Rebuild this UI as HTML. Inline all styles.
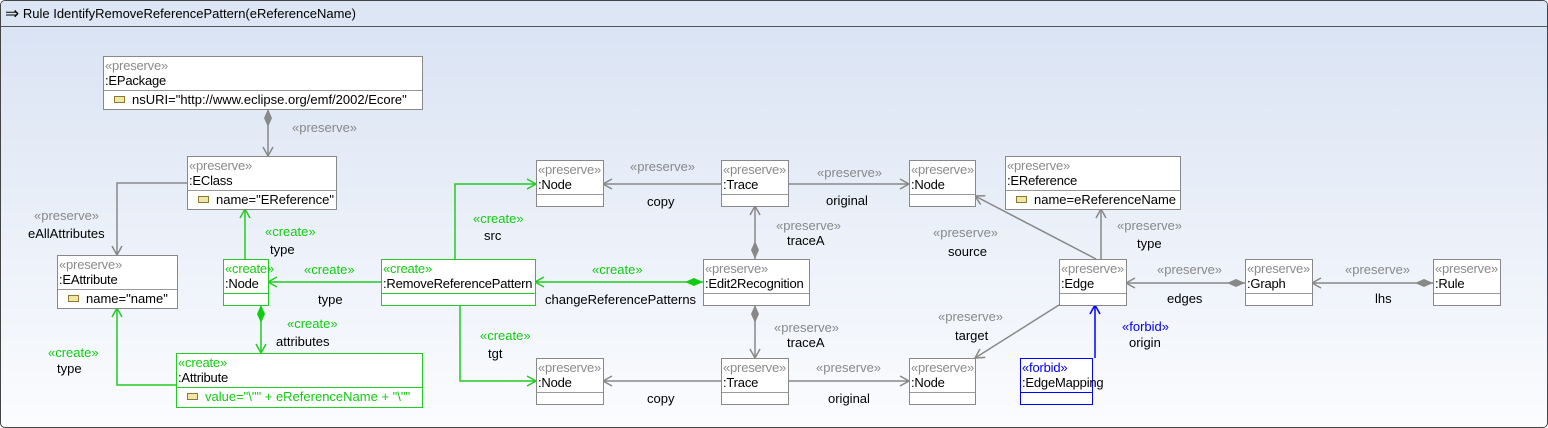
<!DOCTYPE html>
<html><head><meta charset="utf-8"><style>
body{margin:0;width:1548px;height:428px;overflow:hidden;font-family:"Liberation Sans",sans-serif;font-size:13px;background:#fff}
#frame{position:absolute;left:0;top:0;width:1546px;height:426px;border:1px solid #444;border-radius:5px;background:linear-gradient(#d8e2f3,#fbfcfe);overflow:hidden}
#title{position:absolute;left:0;top:0;width:1546px;height:25px;border-bottom:1px solid #555;background:#dde6f4;font-size:13px;line-height:25px}
.box{position:absolute;background:#fff;border:1px solid #888;box-sizing:border-box;white-space:nowrap}
.st{color:#8a8a8a;line-height:15px;padding-left:1px;margin-top:1px;letter-spacing:-0.2px}
.nm{line-height:16px;padding-left:1px;border-bottom:1px solid #999;height:17px;letter-spacing:-0.2px}
.at{line-height:17px;padding-left:10px}
.at i{display:inline-block;width:9px;height:5px;border:1px solid #8a7a30;background:#f2e5a8;margin-right:7px;vertical-align:1px}
.g{border-color:#2c2}.g .st,.g .at{color:#1c1}.g .nm{border-color:#2c2}
.b{border-color:#00f}.b .st{color:#00f}.b .nm{border-color:#00f}
.l{position:absolute;white-space:nowrap;line-height:14px}
.p{color:#888}.c{color:#1c1}.f{color:#00f}
svg{position:absolute;left:0;top:0}
</style></head><body>
<div id="frame">
<div id="title"><span style="font-size:17px;margin-left:4px;vertical-align:-1px">⇒</span> Rule IdentifyRemoveReferencePattern(eReferenceName)</div>
</div>
<svg width="1548" height="428" viewBox="0 0 1548 428">
<defs>
<marker id="ag" markerWidth="12" markerHeight="12" refX="10" refY="6" orient="auto" markerUnits="userSpaceOnUse"><path d="M1,1 L10,6 L1,11" fill="none" stroke="#888" stroke-width="1.5"/></marker>
<marker id="ac" markerWidth="12" markerHeight="12" refX="10" refY="6" orient="auto" markerUnits="userSpaceOnUse"><path d="M1,1 L10,6 L1,11" fill="none" stroke="#2c2" stroke-width="1.5"/></marker>
<marker id="ab" markerWidth="12" markerHeight="12" refX="10" refY="6" orient="auto" markerUnits="userSpaceOnUse"><path d="M1,1 L10,6 L1,11" fill="none" stroke="#00f" stroke-width="1.5"/></marker>
<marker id="dg" markerWidth="22" markerHeight="10" refX="1" refY="5" orient="auto" markerUnits="userSpaceOnUse"><path d="M1,5 L10,1 L19,5 L10,9Z" fill="#888"/></marker>
<marker id="dc" markerWidth="22" markerHeight="10" refX="1" refY="5" orient="auto" markerUnits="userSpaceOnUse"><path d="M1,5 L10,1 L19,5 L10,9Z" fill="#1c1"/></marker>
</defs>
<g fill="none" stroke-width="1.5">
<g stroke="#888">
<path d="M268,109 V156" marker-start="url(#dg)" marker-end="url(#ag)"/>
<path d="M187,183 H117 V255" marker-end="url(#ag)"/>
<path d="M721,184 H603" marker-end="url(#ag)"/>
<path d="M788,184 H909" marker-end="url(#ag)"/>
<path d="M755,259 V206" marker-start="url(#dg)" marker-end="url(#ag)"/>
<path d="M755,305 V358" marker-start="url(#dg)" marker-end="url(#ag)"/>
<path d="M721,381 H603" marker-end="url(#ag)"/>
<path d="M788,381 H909" marker-end="url(#ag)"/>
<path d="M1096,259 L975,196" marker-end="url(#ag)"/>
<path d="M1101,259 V209" marker-end="url(#ag)"/>
<path d="M1059,305 L975,358" marker-end="url(#ag)"/>
<path d="M1245,283 H1126" marker-start="url(#dg)" marker-end="url(#ag)"/>
<path d="M1433,283 H1312" marker-start="url(#dg)" marker-end="url(#ag)"/>
</g>
<g stroke="#2c2">
<path d="M245,259 V209" marker-end="url(#ac)"/>
<path d="M381,282 H268" marker-end="url(#ac)"/>
<path d="M261,305 V353" marker-start="url(#dc)" marker-end="url(#ac)"/>
<path d="M176,385 H117 V308" marker-end="url(#ac)"/>
<path d="M455,259 V184 H536" marker-end="url(#ac)"/>
<path d="M460,305 V381 H536" marker-end="url(#ac)"/>
<path d="M703,282 H535" marker-start="url(#dc)" marker-end="url(#ac)"/>
</g>
<path stroke="#00f" d="M1095,358 V305" marker-end="url(#ab)"/>
</g>
</svg>

<div class="box" style="left:103px;top:56px;width:320px;height:54px"><div class="st">«preserve»</div><div class="nm">:EPackage</div><div class="at"><i></i>nsURI="http://www.eclipse.org/emf/2002/Ecore"</div></div>
<div class="box" style="left:187px;top:156px;width:150px;height:54px"><div class="st">«preserve»</div><div class="nm">:EClass</div><div class="at"><i></i>name="EReference"</div></div>
<div class="box" style="left:57px;top:255px;width:121px;height:54px"><div class="st">«preserve»</div><div class="nm">:EAttribute</div><div class="at"><i></i>name="name"</div></div>
<div class="box g" style="left:223px;top:259px;width:46px;height:47px"><div class="st">«create»</div><div class="nm">:Node</div></div>
<div class="box g" style="left:381px;top:259px;width:155px;height:47px"><div class="st">«create»</div><div class="nm">:RemoveReferencePattern</div></div>
<div class="box g" style="left:176px;top:353px;width:247px;height:55px"><div class="st">«create»</div><div class="nm">:Attribute</div><div class="at"><i></i>value="\"" + eReferenceName + "\""</div></div>
<div class="box" style="left:536px;top:160px;width:68px;height:47px"><div class="st">«preserve»</div><div class="nm">:Node</div></div>
<div class="box" style="left:721px;top:160px;width:68px;height:47px"><div class="st">«preserve»</div><div class="nm">:Trace</div></div>
<div class="box" style="left:909px;top:160px;width:67px;height:47px"><div class="st">«preserve»</div><div class="nm">:Node</div></div>
<div class="box" style="left:1005px;top:156px;width:176px;height:54px"><div class="st">«preserve»</div><div class="nm">:EReference</div><div class="at"><i></i>name=eReferenceName</div></div>
<div class="box" style="left:703px;top:259px;width:107px;height:47px"><div class="st">«preserve»</div><div class="nm">:Edit2Recognition</div></div>
<div class="box" style="left:1059px;top:259px;width:68px;height:47px"><div class="st">«preserve»</div><div class="nm">:Edge</div></div>
<div class="box" style="left:1245px;top:259px;width:68px;height:47px"><div class="st">«preserve»</div><div class="nm">:Graph</div></div>
<div class="box" style="left:1433px;top:259px;width:68px;height:47px"><div class="st">«preserve»</div><div class="nm">:Rule</div></div>
<div class="box" style="left:536px;top:358px;width:68px;height:47px"><div class="st">«preserve»</div><div class="nm">:Node</div></div>
<div class="box" style="left:721px;top:358px;width:68px;height:47px"><div class="st">«preserve»</div><div class="nm">:Trace</div></div>
<div class="box" style="left:909px;top:358px;width:67px;height:47px"><div class="st">«preserve»</div><div class="nm">:Node</div></div>
<div class="box b" style="left:1020px;top:358px;width:73px;height:47px"><div class="st">«forbid»</div><div class="nm">:EdgeMapping</div></div>

<div class="l p" style="left:292px;top:121px">«preserve»</div>
<div class="l p" style="left:34px;top:209px">«preserve»</div><div class="l" style="left:28px;top:227px">eAllAttributes</div>
<div class="l c" style="left:265px;top:225px">«create»</div><div class="l" style="left:270px;top:243px">type</div>
<div class="l c" style="left:304px;top:263px">«create»</div><div class="l" style="left:318px;top:293px">type</div>
<div class="l c" style="left:287px;top:317px">«create»</div><div class="l" style="left:276px;top:335px">attributes</div>
<div class="l c" style="left:48px;top:346px">«create»</div><div class="l" style="left:57px;top:362px">type</div>
<div class="l c" style="left:473px;top:212px">«create»</div><div class="l" style="left:484px;top:229px">src</div>
<div class="l c" style="left:480px;top:329px">«create»</div><div class="l" style="left:488px;top:347px">tgt</div>
<div class="l c" style="left:592px;top:263px">«create»</div><div class="l" style="left:545px;top:293px">changeReferencePatterns</div>
<div class="l p" style="left:630px;top:160px">«preserve»</div><div class="l" style="left:647px;top:195px">copy</div>
<div class="l p" style="left:817px;top:166px">«preserve»</div><div class="l" style="left:826px;top:194px">original</div>
<div class="l p" style="left:776px;top:219px">«preserve»</div><div class="l" style="left:787px;top:234px">traceA</div>
<div class="l p" style="left:774px;top:321px">«preserve»</div><div class="l" style="left:787px;top:336px">traceA</div>
<div class="l" style="left:647px;top:392px">copy</div>
<div class="l p" style="left:816px;top:361px">«preserve»</div><div class="l" style="left:828px;top:392px">original</div>
<div class="l p" style="left:933px;top:226px">«preserve»</div><div class="l" style="left:948px;top:245px">source</div>
<div class="l p" style="left:1117px;top:219px">«preserve»</div><div class="l" style="left:1137px;top:237px">type</div>
<div class="l p" style="left:938px;top:310px">«preserve»</div><div class="l" style="left:955px;top:329px">target</div>
<div class="l p" style="left:1157px;top:263px">«preserve»</div><div class="l" style="left:1167px;top:292px">edges</div>
<div class="l p" style="left:1345px;top:263px">«preserve»</div><div class="l" style="left:1375px;top:292px">lhs</div>
<div class="l f" style="left:1122px;top:320px">«forbid»</div><div class="l" style="left:1129px;top:336px">origin</div>
</body></html>
